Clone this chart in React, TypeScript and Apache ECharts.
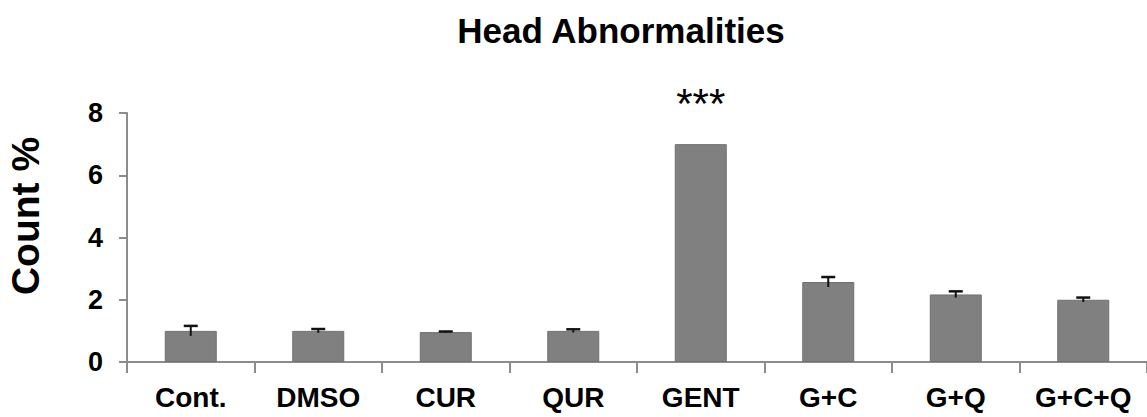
import React, { useEffect, useRef } from "react";
import * as echarts from "echarts";

const categories = ["Cont.", "DMSO", "CUR", "QUR", "GENT", "G+C", "G+Q", "G+C+Q"];
const values = [1.0, 1.0, 0.96, 1.0, 7.0, 2.57, 2.17, 2.0];
const errors = [0.16, 0.06, 0.02, 0.05, 0, 0.16, 0.1, 0.07];
const significance = ["", "", "", "", "***", "", "", ""];
const yTicks = { min: 0, max: 8, interval: 2 };

const sans = '"Liberation Sans", Arial, sans-serif';

export default function App() {
  const ref = useRef<HTMLDivElement>(null);
  useEffect(() => {
    if (!ref.current) return;
    const chart = echarts.init(ref.current, null, { renderer: "svg" });
    const barData = values.map((v, i) =>
      significance[i]
        ? {
            value: v,
            label: {
              show: true,
              position: "top",
              distance: 20,
              formatter: significance[i],
              fontSize: 42,
              fontFamily: sans,
              color: "#000",
            },
          }
        : v
    );
    chart.setOption({
      animation: false,
      title: {
        text: "Head Abnormalities",
        left: 621,
        textAlign: "center",
        top: 13,
        padding: 0,
        textStyle: { fontSize: 35, fontWeight: "bold", fontFamily: sans, color: "#000" },
      },
      grid: { left: 127, right: -7, top: 113, bottom: 55 },
      xAxis: {
        type: "category",
        data: categories,
        axisLine: { lineStyle: { color: "#8c8c8c", width: 2 } },
        axisTick: { show: true, length: 11, interval: 0, lineStyle: { color: "#8c8c8c", width: 2 } },
        axisLabel: {
          interval: 0,
          margin: 21,
          fontSize: 28,
          fontWeight: "bold",
          fontFamily: sans,
          color: "#000",
        },
      },
      yAxis: {
        type: "value",
        min: yTicks.min,
        max: yTicks.max,
        interval: yTicks.interval,
        splitLine: { show: false },
        axisLine: { show: true, lineStyle: { color: "#8c8c8c", width: 2 } },
        axisTick: { show: true, length: 8, lineStyle: { color: "#8c8c8c", width: 2 } },
        axisLabel: {
          margin: 24,
          fontSize: 27,
          fontWeight: "bold",
          fontFamily: sans,
          color: "#000",
        },
      },
      graphic: [
        {
          type: "text",
          x: 25,
          y: 216,
          rotation: Math.PI / 2,
          style: {
            text: "Count %",
            fontSize: 39,
            fontWeight: "bold",
            fontFamily: sans,
            fill: "#000",
            align: "center",
            verticalAlign: "middle",
          },
        },
      ],
      series: [
        {
          type: "bar",
          data: barData,
          barWidth: 52,
          itemStyle: { color: "#808080", borderColor: "#707070", borderWidth: 1 },
        },
        {
          type: "custom",
          data: values.map((v, i) => [i, v, errors[i]]),
          z: 5,
          renderItem: (params: any, api: any) => {
            const idx = api.value(0);
            const v = api.value(1);
            const e = api.value(2);
            if (!e) return null;
            const lo = api.coord([idx, v - e]);
            const hi = api.coord([idx, v + e]);
            const hw = 7;
            return {
              type: "group",
              children: [
                {
                  type: "line",
                  shape: { x1: hi[0], y1: lo[1], x2: hi[0], y2: hi[1] },
                  style: { stroke: "#111", lineWidth: 2 },
                },
                {
                  type: "line",
                  shape: { x1: hi[0] - hw, y1: hi[1], x2: hi[0] + hw, y2: hi[1] },
                  style: { stroke: "#111", lineWidth: 2.5 },
                },
              ],
            };
          },
        },
      ],
    });
    return () => chart.dispose();
  }, []);
  return (
    <div
      ref={ref}
      style={{ position: "absolute", left: 0, top: 0, width: 1147, height: 417, background: "#fff" }}
    />
  );
}
